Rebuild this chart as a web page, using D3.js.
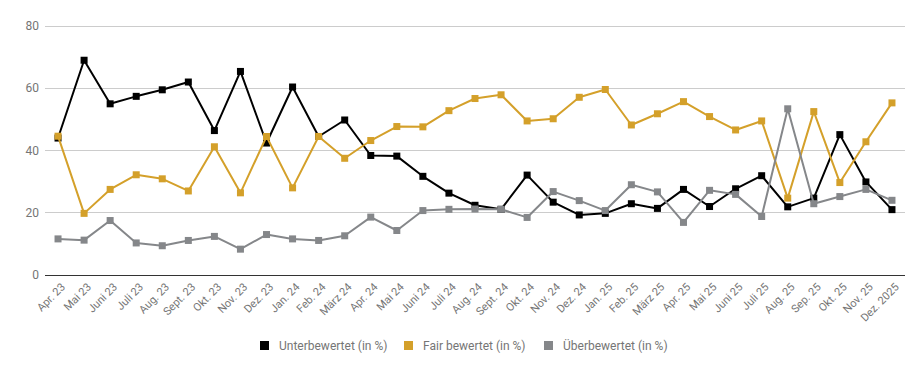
<!DOCTYPE html>
<html><head><meta charset="utf-8">
<script src="https://cdn.jsdelivr.net/npm/d3@7"></script>
<style>body{margin:0;background:#fff;font-family:Roboto,sans-serif}</style>
</head><body><svg id="c" width="924" height="371"></svg>
<script>
const categories = ["Apr. 23","Mai 23","Juni 23","Juli 23","Aug. 23","Sept. 23","Okt. 23","Nov. 23","Dez. 23","Jan. 24","Feb. 24","März 24","Apr. 24","Mai 24","Juni 24","Juli 24","Aug. 24","Sept. 24","Okt. 24","Nov. 24","Dez. 24","Jan. 25","Feb. 25","März 25","Apr. 25","Mai 25","Juni 25","Juli 25","Aug. 25","Sep. 25","Okt. 25","Nov. 25","Dez. 2025"];
const unterbewertet = [44,69,55,57.4,59.5,62,46.4,65.4,42.4,60.4,44.5,49.8,38.4,38.2,31.7,26.3,22.4,21.1,32.1,23.4,19.3,19.8,22.9,21.4,27.5,22,27.7,31.9,21.9,24.7,45.1,29.9,21];
const fair = [44.6,19.8,27.5,32.2,30.9,27,41.2,26.4,44.5,28,44.5,37.5,43.2,47.7,47.6,52.8,56.7,57.9,49.5,50.2,57.1,59.6,48.2,51.8,55.7,50.9,46.6,49.5,24.7,52.5,29.7,42.8,55.3];
const ueberbewertet = [11.6,11.2,17.5,10.3,9.4,11.1,12.4,8.3,13,11.6,11.1,12.6,18.6,14.3,20.7,21.1,21.2,21.1,18.5,26.8,23.9,20.7,29,26.7,16.9,27.2,25.9,18.8,53.4,22.9,25.2,27.5,24];
const yTicks = [0,20,40,60,80];
const seriesNames = ["Unterbewertet (in %)","Fair bewertet (in %)","Überbewertet (in %)"];
const colors = ["#000000","#d4a02a","#85878a"];
const seriesData = [unterbewertet, fair, ueberbewertet];

const svg = d3.select("#c");
const L = 45, R = 905, T = 26, B = 275;
const x = d3.scaleBand().domain(categories).range([L, R]);
const y = d3.scaleLinear().domain([0, 80]).range([B, T]);
const textCol = "#757575";

svg.append("g").selectAll("line").data(yTicks.filter(d => d > 0)).join("line")
  .attr("x1", L).attr("x2", R).attr("y1", d => y(d)).attr("y2", d => y(d))
  .attr("stroke", "#cccccc").attr("stroke-width", 1).attr("shape-rendering","crispEdges");

svg.append("g").selectAll("text").data(yTicks).join("text")
  .attr("x", 39).attr("y", d => y(d)).attr("dy", "0.35em").attr("text-anchor", "end")
  .attr("font-size", 12).attr("fill", textCol).text(d => d);

svg.append("line").attr("x1", L).attr("x2", R).attr("y1", y(0)).attr("y2", y(0))
  .attr("stroke", "#333").attr("stroke-width", 1).attr("shape-rendering","crispEdges");

const cx = d => x(d) + x.bandwidth() / 2;
svg.append("g").selectAll("text").data(categories).join("text")
  .attr("transform", d => `translate(${cx(d) + 5},${B + 10}) rotate(-45)`)
  .attr("text-anchor", "end").attr("dy", "0.35em")
  .attr("font-size", 11).attr("fill", textCol).text(d => d);

seriesData.forEach((vals, i) => {
  const line = d3.line().x((d, j) => cx(categories[j])).y(d => y(d));
  svg.append("path").datum(vals).attr("d", line).attr("fill", "none")
    .attr("stroke", colors[i]).attr("stroke-width", 2).attr("stroke-linejoin", "round");
  svg.append("g").selectAll("rect").data(vals).join("rect")
    .attr("x", (d, j) => cx(categories[j]) - 3.5).attr("y", d => y(d) - 3.5)
    .attr("width", 7).attr("height", 7).attr("fill", colors[i]);
});

const legendX = [260, 404, 544];
const lg = svg.append("g");
seriesNames.forEach((n, i) => {
  lg.append("rect").attr("x", legendX[i]).attr("y", 341).attr("width", 9).attr("height", 9).attr("fill", colors[i]);
  lg.append("text").attr("x", legendX[i] + 19).attr("y", 345.5).attr("dy", "0.35em")
    .attr("font-size", 12).attr("fill", textCol).text(n);
});
</script></body></html>
